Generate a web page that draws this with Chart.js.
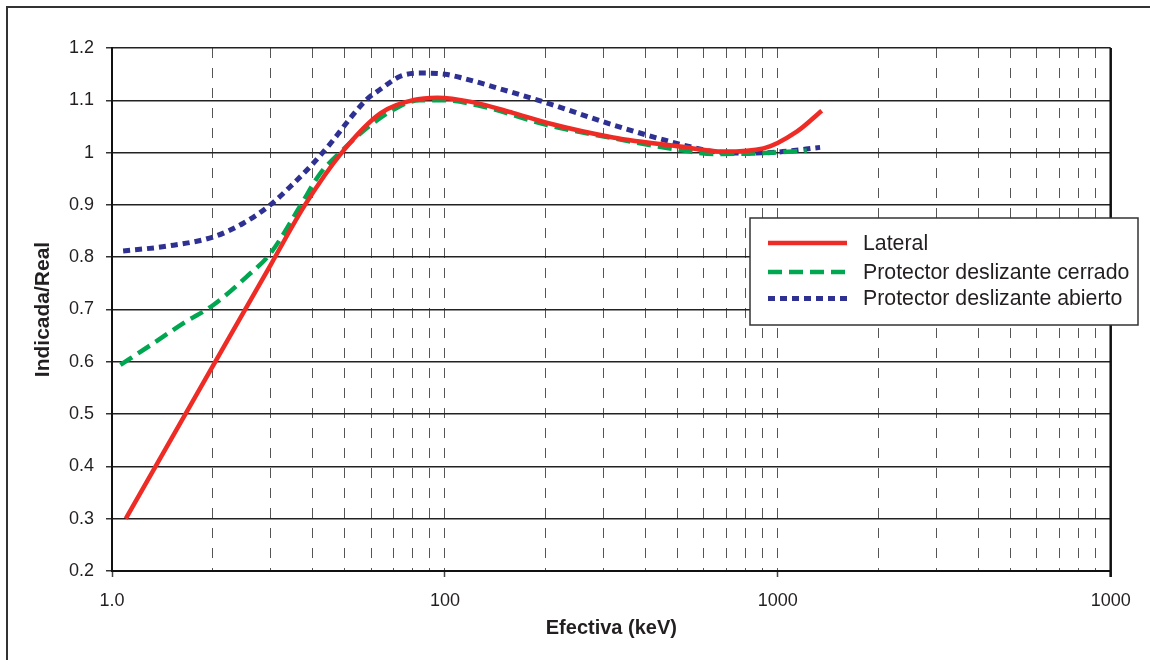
<!DOCTYPE html>
<html>
<head>
<meta charset="utf-8">
<script src="https://cdn.jsdelivr.net/npm/chart.js@4.4.0/dist/chart.umd.min.js"></script>
<style>
html,body{margin:0;padding:0;background:#fff;overflow:hidden}
canvas{display:block}
</style>
</head>
<body>
<canvas id="c" width="1150" height="660"></canvas>
<script>
// ---------- DATA ----------
const seriesLabels = ['Lateral', 'Protector deslizante cerrado', 'Protector deslizante abierto'];

const lateralE = [11, 20, 30, 38, 49, 64, 80, 95, 120, 160, 202, 320, 509, 687, 906, 1140, 1355];
const lateralV = [0.30, 0.59, 0.786, 0.90, 1.00, 1.075, 1.100, 1.105, 1.097, 1.076, 1.057, 1.029, 1.0115, 1.002, 1.008, 1.040, 1.080];

const cerradoE = [10.6, 13, 16.4, 20.2, 25.4, 29.9, 36.7, 42.2, 48.4, 58.3, 70, 84, 100, 130, 202, 320, 509, 641, 906, 1222];
const cerradoV = [0.594, 0.631, 0.674, 0.709, 0.763, 0.807, 0.897, 0.960, 1.000, 1.047, 1.082, 1.100, 1.100, 1.088, 1.053, 1.0275, 1.005, 0.9975, 0.999, 1.004];

const abiertoE = [10.8, 14.6, 20.2, 24.8, 29.9, 35.1, 40.3, 46.2, 52, 58.3, 64, 73.5, 85, 100, 113.7, 150, 202, 320, 509, 641, 807, 1000, 1340];
const abiertoV = [0.812, 0.821, 0.839, 0.865, 0.900, 0.941, 0.980, 1.024, 1.066, 1.102, 1.121, 1.146, 1.152, 1.150, 1.142, 1.120, 1.095, 1.053, 1.016, 1.002, 0.999, 1.001, 1.010];

const xTickValues = [10,20,30,40,50,60,70,80,90,100,200,300,400,500,600,700,800,900,1000,2000,3000,4000,5000,6000,7000,8000,9000,10000];
const xMajorValues = [10, 100, 1000, 10000];
const xMajorLabels = ['1.0', '100', '1000', '1000'];
const xMin = 10, xMax = 10000;
const yMin = 0.2, yMax = 1.2, yStep = 0.1;
const xTitle = 'Efectiva (keV)';
const yTitle = 'Indicada/Real';

// ---------- CHART ----------
const FONT = 'Arial, "Liberation Sans", Helvetica, sans-serif';
const TXT = '#231f20';
const toPts = (E, V) => E.map((e, i) => ({x: e, y: V[i]}));
const majorLabelMap = {};
xMajorValues.forEach((v, i) => majorLabelMap[v] = xMajorLabels[i]);
const isMajor = v => xMajorValues.includes(v);

const framePlugin = {
  id: 'frame',
  beforeDraw(chart) {
    const ctx = chart.ctx;
    ctx.save();
    ctx.fillStyle = '#fff';
    ctx.fillRect(0, 0, chart.width, chart.height);
    ctx.strokeStyle = '#333';
    ctx.lineWidth = 2;
    ctx.beginPath();
    ctx.moveTo(7, chart.height);
    ctx.lineTo(7, 7);
    ctx.lineTo(chart.width, 7);
    ctx.stroke();
    ctx.restore();
  },
  beforeDatasetsDraw(chart) {
    const a = chart.chartArea, ctx = chart.ctx;
    ctx.save();
    ctx.strokeStyle = '#111';
    ctx.lineWidth = 2.5;
    ctx.beginPath();
    ctx.moveTo(a.right, a.top);
    ctx.lineTo(a.right, a.bottom + 6);
    ctx.stroke();
    ctx.restore();
  }
};

const legendPlugin = {
  id: 'customLegend',
  afterDraw(chart) {
    const ctx = chart.ctx;
    ctx.save();
    ctx.fillStyle = '#fff';
    ctx.fillRect(750, 218, 388, 107);
    ctx.lineWidth = 1.5;
    ctx.strokeStyle = '#333';
    ctx.strokeRect(750, 218, 388, 107);
    const rows = [243, 272, 298.5];
    chart.data.datasets.forEach((ds, i) => {
      ctx.save();
      ctx.strokeStyle = ds.borderColor;
      ctx.lineWidth = ds.borderWidth;
      ctx.setLineDash(ds.borderDash || []);
      ctx.beginPath();
      ctx.moveTo(768, rows[i]);
      ctx.lineTo(847, rows[i]);
      ctx.stroke();
      ctx.restore();
      ctx.fillStyle = TXT;
      ctx.font = '21.3px ' + FONT;
      ctx.textBaseline = 'middle';
      ctx.textAlign = 'left';
      ctx.fillText(ds.label, 863, rows[i] + 1);
    });
    ctx.restore();
  }
};

Chart.defaults.font.family = FONT;
Chart.defaults.color = TXT;

new Chart(document.getElementById('c'), {
  type: 'line',
  data: {
    datasets: [
      {label: seriesLabels[0], data: toPts(lateralE, lateralV), borderColor: '#ee2b24', borderWidth: 4.5, borderDash: [], pointRadius: 0, cubicInterpolationMode: 'monotone', fill: false},
      {label: seriesLabels[1], data: toPts(cerradoE, cerradoV), borderColor: '#00a650', borderWidth: 4.5, borderDash: [14, 7], pointRadius: 0, cubicInterpolationMode: 'monotone', fill: false},
      {label: seriesLabels[2], data: toPts(abiertoE, abiertoV), borderColor: '#2e3192', borderWidth: 5, borderDash: [7, 5], pointRadius: 0, cubicInterpolationMode: 'monotone', fill: false}
    ]
  },
  options: {
    responsive: false,
    animation: false,
    devicePixelRatio: 1,
    layout: {padding: {left: 0, top: 48, right: 39.3, bottom: 0}},
    plugins: {legend: {display: false}, tooltip: {enabled: false}},
    scales: {
      x: {
        type: 'logarithmic',
        min: xMin, max: xMax,
        afterBuildTicks: s => { s.ticks = xTickValues.map(v => ({value: v, major: isMajor(v)})); },
        afterFit: s => { s.height = 89; },
        ticks: {
          autoSkip: false, maxRotation: 0, minRotation: 0,
          padding: 13,
          font: {size: 18},
          color: TXT,
          callback: v => (majorLabelMap[v] !== undefined ? majorLabelMap[v] : '')
        },
        grid: {
          drawTicks: true,
          tickLength: 6,
          lineWidth: 1,
          color: c => (c.tick && (c.tick.value === xMin || c.tick.value === xMax)) ? 'rgba(0,0,0,0)' : '#555',
          tickColor: c => (c.tick && isMajor(c.tick.value)) ? '#444' : 'rgba(0,0,0,0)',
          tickWidth: 1.5
        },
        border: {display: true, color: '#111', width: 2, dash: c => (c.type === 'tick' ? [10, 10] : [])},
        title: {display: true, text: xTitle, font: {size: 20, weight: 'bold'}, color: TXT, padding: {top: 0, bottom: 20}}
      },
      y: {
        type: 'linear',
        min: yMin, max: yMax,
        afterFit: s => { s.width = 112; },
        ticks: {
          stepSize: yStep,
          padding: 12,
          font: {size: 18},
          color: TXT,
          callback: v => String(Number(Number(v).toFixed(1)))
        },
        grid: {color: '#222', lineWidth: 1.5, drawTicks: true, tickLength: 6, tickColor: '#333'},
        border: {display: true, color: '#111', width: 2},
        title: {display: true, text: yTitle, font: {size: 21, weight: 'bold'}, color: TXT, padding: {top: 30.7, bottom: 0}}
      }
    }
  },
  plugins: [framePlugin, legendPlugin]
});
</script>
</body>
</html>
